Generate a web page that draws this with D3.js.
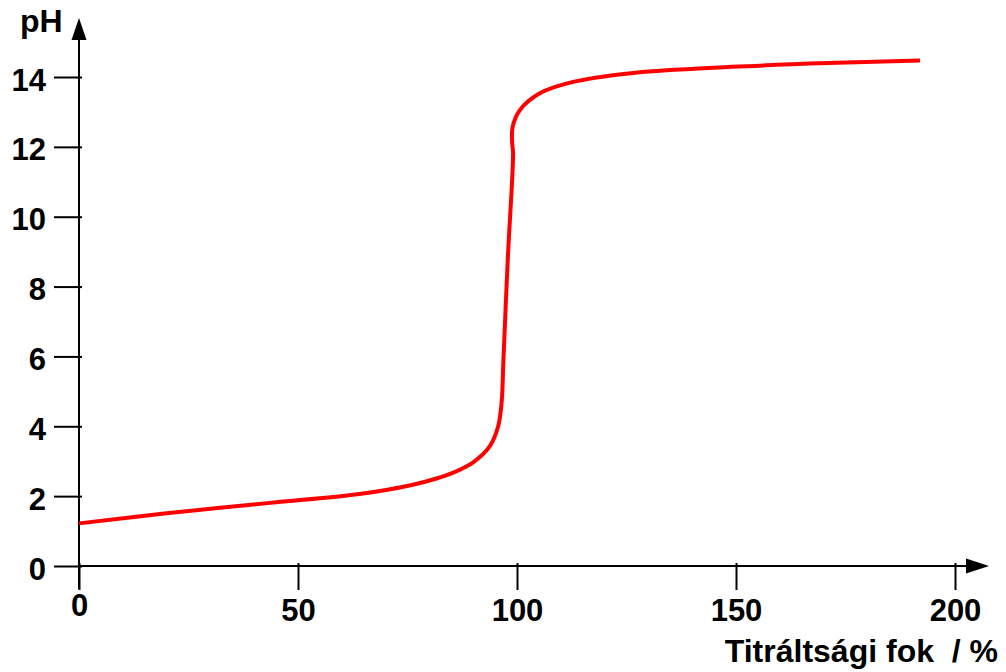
<!DOCTYPE html>
<html>
<head>
<meta charset="utf-8">
<script src="https://cdn.jsdelivr.net/npm/d3@7"></script>
<style>
  body { margin: 0; background: #fff; }
  svg { display: block; font-family: "Liberation Sans", Arial, sans-serif; font-weight: bold; }
</style>
</head>
<body>
<svg id="chart" width="1006" height="672"></svg>
<script>
// titration curve
const degree = [0, 20, 43, 64, 76, 82, 85, 90, 93.8, 95.7, 96.5, 96.9, 97.9, 99.1, 98.9, 99.0, 100.7, 105.3, 112.8, 126, 149, 171, 192];
const pH     = [1.22, 1.51, 1.8, 2.06, 2.32, 2.52, 2.65, 2.97, 3.43, 4.0, 4.7, 5.9, 8.8, 11.85, 12.1, 12.57, 13.06, 13.54, 13.86, 14.11, 14.29, 14.4, 14.47];
const xTicks = [0, 50, 100, 150, 200];
const yTicks = [0, 2, 4, 6, 8, 10, 12, 14];

const svg = d3.select("#chart");

const x = d3.scaleLinear().domain([0, 200]).range([79, 955]);
const y = d3.scaleLinear().domain([0, 14]).range([566, 77]);

// x ticks, crossing the axis a bit
const gx = svg.append("g")
  .attr("transform", "translate(0,563)")
  .call(d3.axisBottom(x).tickValues(xTicks).tickSize(27).tickPadding(9).tickSizeOuter(0));
gx.select(".domain").remove();
gx.selectAll("line").attr("stroke", "#000").attr("stroke-width", 2);
gx.selectAll("text").attr("fill", "#000").style("font-size", "31px").style("font-weight", "bold")
  .attr("dy", d => d === 0 ? "0.55em" : "0.71em");

// y ticks
const gy = svg.append("g")
  .attr("transform", "translate(82,0)")
  .call(d3.axisLeft(y).tickValues(yTicks).tickSize(28).tickPadding(8).tickSizeOuter(0));
gy.select(".domain").remove();
gy.selectAll("line").attr("stroke", "#000").attr("stroke-width", 2);
gy.selectAll("text").attr("fill", "#000").style("font-size", "31px").style("font-weight", "bold")
  .attr("dy", "0.42em");

// axis lines with arrows
svg.append("line")
  .attr("x1", 79).attr("x2", 968).attr("y1", 566).attr("y2", 566)
  .attr("stroke", "#000").attr("stroke-width", 2);
svg.append("line")
  .attr("x1", 79).attr("x2", 79).attr("y1", 589).attr("y2", 38)
  .attr("stroke", "#000").attr("stroke-width", 2);
svg.append("path")
  .attr("d", "M989,566 L966,558.5 L966,573.5 Z")
  .attr("fill", "#000");
svg.append("path")
  .attr("d", "M79,18 L71.5,40 L86.5,40 Z")
  .attr("fill", "#000");

// axis titles
svg.append("text")
  .attr("x", 20).attr("y", 32)
  .style("font-size", "32px")
  .text("pH");
svg.append("text")
  .attr("x", 998).attr("y", 662)
  .attr("text-anchor", "end")
  .style("font-size", "32px")
  .style("white-space", "pre")
  .text("Titráltsági fok  / %");

// the curve
const pts = degree.map((d, i) => [d, pH[i]]);
const line = d3.line()
  .x(d => x(d[0]))
  .y(d => y(d[1]))
  .curve(d3.curveCatmullRom.alpha(0.5));

svg.append("path")
  .datum(pts)
  .attr("d", line)
  .attr("fill", "none")
  .attr("stroke", "#ff0000")
  .attr("stroke-width", 4);
</script>
</body>
</html>
